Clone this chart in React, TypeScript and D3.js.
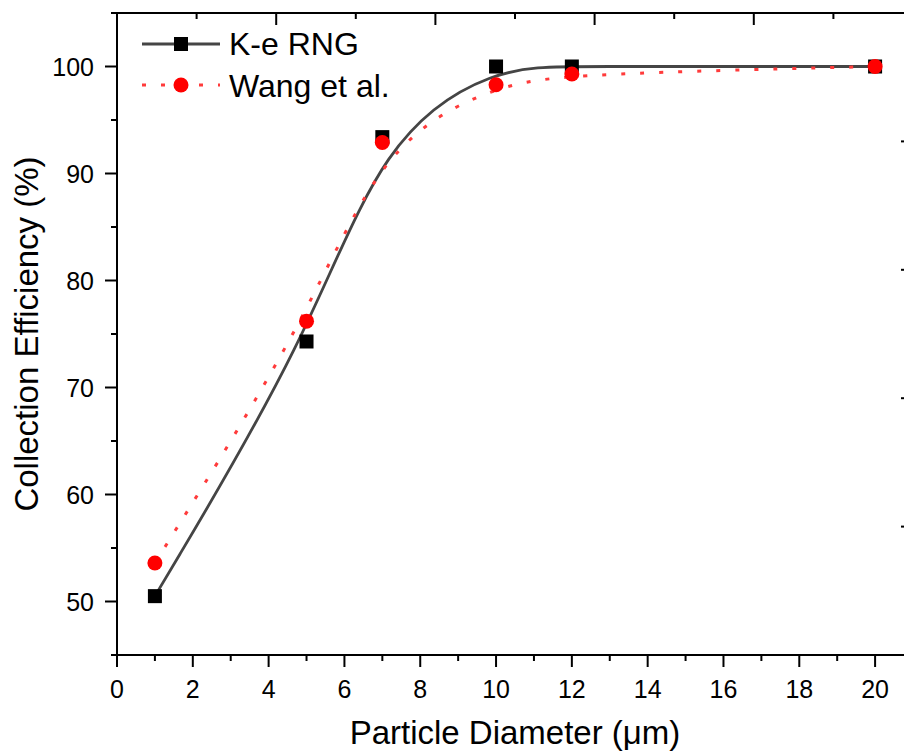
import React from "react";
import * as d3 from "d3";

const diameters = [1, 5, 7, 10, 12, 20];
const keRng = [50.5, 74.3, 93.4, 100, 100, 100];
const wang = [53.6, 76.2, 92.9, 98.3, 99.3, 100];

const xTicks = [0, 2, 4, 6, 8, 10, 12, 14, 16, 18, 20];
const xMinor = [1, 3, 5, 7, 9, 11, 13, 15, 17, 19, 21];
const yTicks = [50, 60, 70, 80, 90, 100];
const yMinor = [45, 55, 65, 75, 85, 95, 105];
const topMajor = [0, 2, 4, 6, 8, 10];
const topMinor = [1, 3, 5, 7, 9];
const rightMajor = [0, 1, 2, 3, 4, 5];
const rightMinor = [0.5, 1.5, 2.5, 3.5, 4.5];

const seriesNames = ["K-e RNG", "Wang et al."];

const W = 904;
const H = 754;
const L = 117, R = 913, T = 13, B = 655;
const FONT = "Arial, 'Liberation Sans', sans-serif";

export default function App() {
  const x = d3.scaleLinear().domain([0, 21]).range([L, R]);
  const y = d3.scaleLinear().domain([45, 105]).range([B, T]);
  const xTop = d3.scaleLinear().domain([0, 10]).range([L, R]);
  const yRight = d3.scaleLinear().domain([0, 5]).range([B, T]);

  const line = d3
    .line<[number, number]>()
    .x((d) => x(d[0]))
    .y((d) => y(d[1]))
    .curve(d3.curveBasis);

  const blackPts = diameters.map((d, i) => [d, keRng[i]] as [number, number]);
  const redPts = diameters.map((d, i) => [d, wang[i]] as [number, number]);

  const sq = 14;
  const cr = 7.5;

  return (
    <svg
      width={W}
      height={H}
      style={{ position: "absolute", left: 0, top: 0, background: "#fff" }}
      fontFamily={FONT}
    >
      <rect x={0} y={0} width={W} height={H} fill="#fff" />
      {/* data */}
      <path d={line(blackPts) || ""} fill="none" stroke="#454545" strokeWidth={2.8} />
      {blackPts.map((p, i) => (
        <rect key={"s" + i} x={x(p[0]) - sq / 2} y={y(p[1]) - sq / 2} width={sq} height={sq} fill="#000" />
      ))}
      <path
        d={line(redPts) || ""}
        fill="none"
        stroke="#ff3b3b"
        strokeWidth={3}
        strokeDasharray="4 15"
      />
      {redPts.map((p, i) => (
        <circle key={"c" + i} cx={x(p[0])} cy={y(p[1])} r={cr} fill="#ff0000" />
      ))}

      {/* axes lines */}
      <g stroke="#000" strokeWidth={2}>
        <line x1={L} x2={L} y1={T} y2={B} />
        <line x1={L} x2={R} y1={B} y2={B} />
        <line x1={L} x2={R} y1={T} y2={T} />
        <line x1={R} x2={R} y1={T} y2={B} />
        {xTicks.map((t) => (
          <line key={"xt" + t} x1={x(t)} x2={x(t)} y1={B} y2={B + 12} />
        ))}
        {xMinor.map((t) => (
          <line key={"xm" + t} x1={x(t)} x2={x(t)} y1={B} y2={B + 6} />
        ))}
        {yTicks.map((t) => (
          <line key={"yt" + t} x1={L - 12} x2={L} y1={y(t)} y2={y(t)} />
        ))}
        {yMinor.map((t) => (
          <line key={"ym" + t} x1={L - 6} x2={L} y1={y(t)} y2={y(t)} />
        ))}
        {topMajor.map((t) => (
          <line key={"tt" + t} x1={xTop(t)} x2={xTop(t)} y1={T} y2={T + 12} />
        ))}
        {topMinor.map((t) => (
          <line key={"tm" + t} x1={xTop(t)} x2={xTop(t)} y1={T} y2={T + 6} />
        ))}
        {rightMajor.map((t) => (
          <line key={"rt" + t} x1={R - 12} x2={R} y1={yRight(t)} y2={yRight(t)} />
        ))}
        {rightMinor.map((t) => (
          <line key={"rm" + t} x1={R - 6} x2={R} y1={yRight(t)} y2={yRight(t)} />
        ))}
      </g>

      {/* tick labels */}
      <g fontSize={25} fill="#000">
        {xTicks.map((t) => (
          <text key={"xl" + t} x={x(t)} y={698} textAnchor="middle">
            {t}
          </text>
        ))}
        {yTicks.map((t) => (
          <text key={"yl" + t} x={94} y={y(t) + 9} textAnchor="end">
            {t}
          </text>
        ))}
      </g>

      {/* axis titles */}
      <text x={(L + R) / 2} y={744} textAnchor="middle" fontSize={33} fill="#000">
        Particle Diameter (μm)
      </text>
      <text
        transform={`translate(38, ${(T + B) / 2}) rotate(-90)`}
        textAnchor="middle"
        fontSize={33}
        fill="#000"
      >
        Collection Efficiency (%)
      </text>

      {/* legend */}
      <g>
        <line x1={142} x2={220} y1={44} y2={44} stroke="#454545" strokeWidth={2.8} />
        <rect x={181 - sq / 2} y={44 - sq / 2} width={sq} height={sq} fill="#000" />
        <text x={229} y={55} fontSize={32} fill="#000">
          {seriesNames[0]}
        </text>
        <line
          x1={142}
          x2={220}
          y1={85}
          y2={85}
          stroke="#ff3b3b"
          strokeWidth={3}
          strokeDasharray="4 15"
        />
        <circle cx={181} cy={85} r={cr} fill="#ff0000" />
        <text x={229} y={97} fontSize={32} fill="#000">
          {seriesNames[1]}
        </text>
      </g>
    </svg>
  );
}
